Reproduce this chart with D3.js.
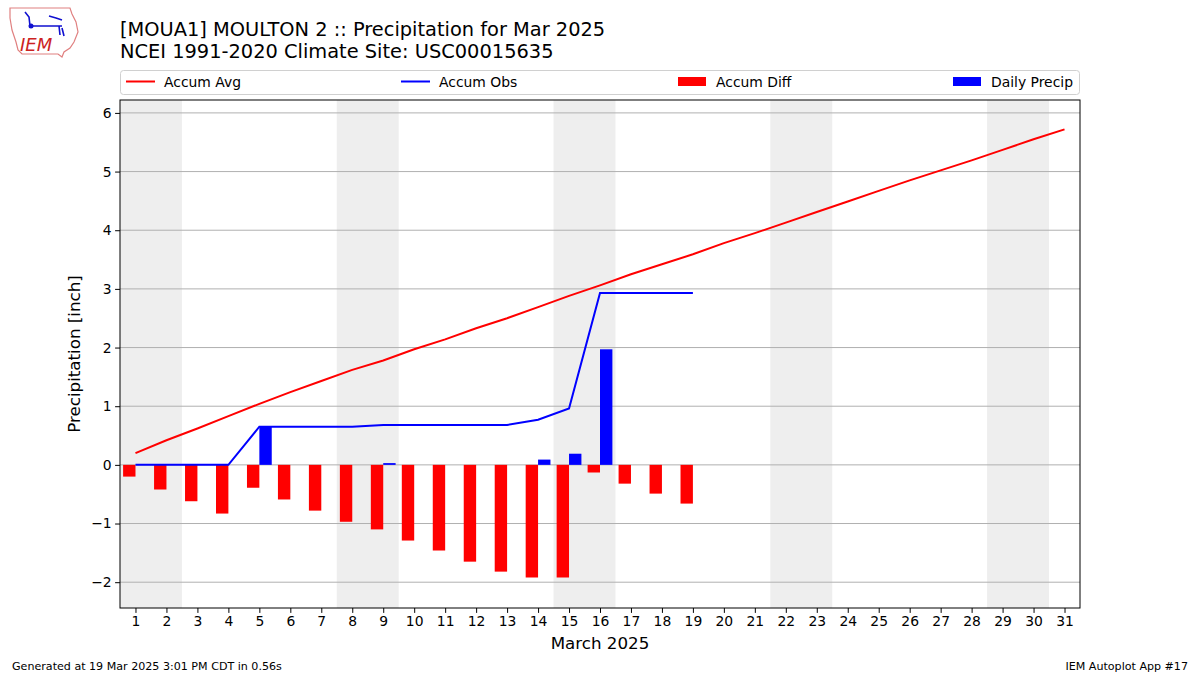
<!DOCTYPE html>
<html><head><meta charset="utf-8">
<script src="https://cdn.jsdelivr.net/npm/d3@7"></script>
<style>body{margin:0;background:#fff}text{font-family:"DejaVu Sans",sans-serif}</style>
</head><body><svg id="c" width="1200" height="675"></svg>
<script>
const days = d3.range(1, 32);
const accumAvg = [0.20,0.42,0.62,0.83,1.04,1.24,1.43,1.62,1.78,1.97,2.14,2.33,2.50,2.69,2.88,3.06,3.25,3.42,3.59,3.78,3.95,4.13,4.31,4.49,4.67,4.85,5.02,5.19,5.37,5.55,5.72];
const accumObs = [0,0,0,0,0.65,0.65,0.65,0.65,0.68,0.68,0.68,0.68,0.68,0.77,0.96,2.93,2.93,2.93,2.93];
const accumDiff = [-0.20,-0.42,-0.62,-0.83,-0.39,-0.59,-0.78,-0.97,-1.10,-1.29,-1.46,-1.65,-1.82,-1.92,-1.92,-0.13,-0.32,-0.49,-0.66];
const dailyPrecip = [0,0,0,0,0.65,0,0,0,0.03,0,0,0,0,0.09,0.19,1.97,0,0,0];
const weekendStarts = [1,8,15,22,29];
const yTicks = [-2,-1,0,1,2,3,4,5,6];

const svg = d3.select("#c");
const L=120,R=1080,T=100,B=608;
const x = d3.scaleLinear().domain([0.5,31.5]).range([L,R]);
const y = d3.scaleLinear().domain([-2.44,6.22]).range([B,T]);

// weekend shading
svg.selectAll("rect.wk").data(weekendStarts).enter().append("rect")
  .attr("x",d=>x(d-0.5)).attr("width",d=>x(d+1.5)-x(d-0.5))
  .attr("y",T).attr("height",B-T).attr("fill","#eeeeee");
// grid
svg.selectAll("line.g").data(yTicks).enter().append("line")
  .attr("x1",L).attr("x2",R).attr("y1",d=>y(d)).attr("y2",d=>y(d))
  .attr("stroke","#b0b0b0").attr("stroke-width",1);

// bars
const bw = 0.4;
svg.selectAll("rect.diff").data(accumDiff).enter().append("rect")
  .attr("x",(d,i)=>x(i+1-bw)).attr("width",x(bw)-x(0))
  .attr("y",d=>y(Math.max(0,d))).attr("height",d=>Math.abs(y(d)-y(0)))
  .attr("fill","#ff0000");
svg.selectAll("rect.dp").data(dailyPrecip).enter().append("rect")
  .attr("x",(d,i)=>x(i+1)).attr("width",x(bw)-x(0))
  .attr("y",d=>y(Math.max(0,d))).attr("height",d=>Math.abs(y(d)-y(0)))
  .attr("fill","#0000ff");

const line = d3.line().x((d,i)=>x(i+1)).y(d=>y(d));
svg.append("path").datum(accumAvg).attr("d",line).attr("fill","none").attr("stroke","#ff0000").attr("stroke-width",2);
svg.append("path").datum(accumObs).attr("d",line).attr("fill","none").attr("stroke","#0000ff").attr("stroke-width",2);

// axes
const xa = svg.append("g").attr("transform",`translate(0,${B})`)
  .call(d3.axisBottom(x).tickValues(days).tickFormat(d3.format("d")).tickSize(4.9).tickPadding(3.5));
const ya = svg.append("g").attr("transform",`translate(${L},0)`)
  .call(d3.axisLeft(y).tickValues(yTicks).tickFormat(d=>d<0?"\u2212"+Math.abs(d):d).tickSize(4.9).tickPadding(3.5));
[xa,ya].forEach(a=>{a.select(".domain").remove();a.selectAll("text").attr("font-size",13.9).attr("font-family","DejaVu Sans").attr("fill","#000");a.selectAll("line").attr("stroke","#000");});
svg.append("rect").attr("x",L).attr("y",T).attr("width",R-L).attr("height",B-T).attr("fill","none").attr("stroke","#000").attr("stroke-width",1);

svg.append("text").attr("x",(L+R)/2).attr("y",649).attr("text-anchor","middle").attr("font-size",16.7).text("March 2025");
svg.append("text").attr("transform",`translate(80,${(T+B)/2}) rotate(-90)`).attr("text-anchor","middle").attr("font-size",16.7).text("Precipitation [inch]");

// titles
svg.append("text").attr("x",120).attr("y",36).attr("font-size",19.4).text("[MOUA1] MOULTON 2 :: Precipitation for Mar 2025");
svg.append("text").attr("x",120).attr("y",58).attr("font-size",19.4).text("NCEI 1991-2020 Climate Site: USC00015635");

// legend
svg.append("rect").attr("x",120.5).attr("y",70.5).attr("width",959).attr("height",24).attr("rx",3).attr("fill","#fff").attr("stroke","#d0d0d0");
const leg = [
  {t:"Accum Avg",c:"#ff0000",k:"line",x:126},
  {t:"Accum Obs",c:"#0000ff",k:"line",x:401},
  {t:"Accum Diff",c:"#ff0000",k:"rect",x:678},
  {t:"Daily Precip",c:"#0000ff",k:"rect",x:953}];
leg.forEach(l=>{
  if(l.k==="line") svg.append("line").attr("x1",l.x).attr("x2",l.x+29).attr("y1",81.5).attr("y2",81.5).attr("stroke",l.c).attr("stroke-width",2);
  else svg.append("rect").attr("x",l.x).attr("y",77).attr("width",28).attr("height",9).attr("fill",l.c);
  svg.append("text").attr("x",l.x+38).attr("y",86.5).attr("font-size",13.9).text(l.t);
});

// footer
svg.append("text").attr("x",12).attr("y",670).attr("font-size",11.1).text("Generated at 19 Mar 2025 3:01 PM CDT in 0.56s");
svg.append("text").attr("x",1188).attr("y",670).attr("font-size",11.1).attr("text-anchor","end").text("IEM Autoplot App #17");

// logo
const lg = svg.append("g");
lg.append("path").attr("d","M10,8 L70,8 L72,14 L76,22 L78,32 L74,42 L70,48 L64,52 L62,57 L58,54 L22,54 L18,50 L16,42 L12,30 L10,18 Z")
  .attr("fill","#fff").attr("stroke","#e08080").attr("stroke-width",1.2);
lg.append("path").attr("d","M25,12 L29,17 L30,26 L62,26 M49,16 L56,18 L62,20 M59,26 L60,35 M62,28 L64,36")
  .attr("fill","none").attr("stroke","#1010d0").attr("stroke-width",1.6);
lg.append("circle").attr("cx",31).attr("cy",26).attr("r",2.5).attr("fill","#1010d0");
lg.append("text").attr("x",20).attr("y",51).attr("font-family","Liberation Serif").attr("font-style","italic").attr("font-size",18).attr("fill","#cc2222").text("IEM");
</script></body></html>
